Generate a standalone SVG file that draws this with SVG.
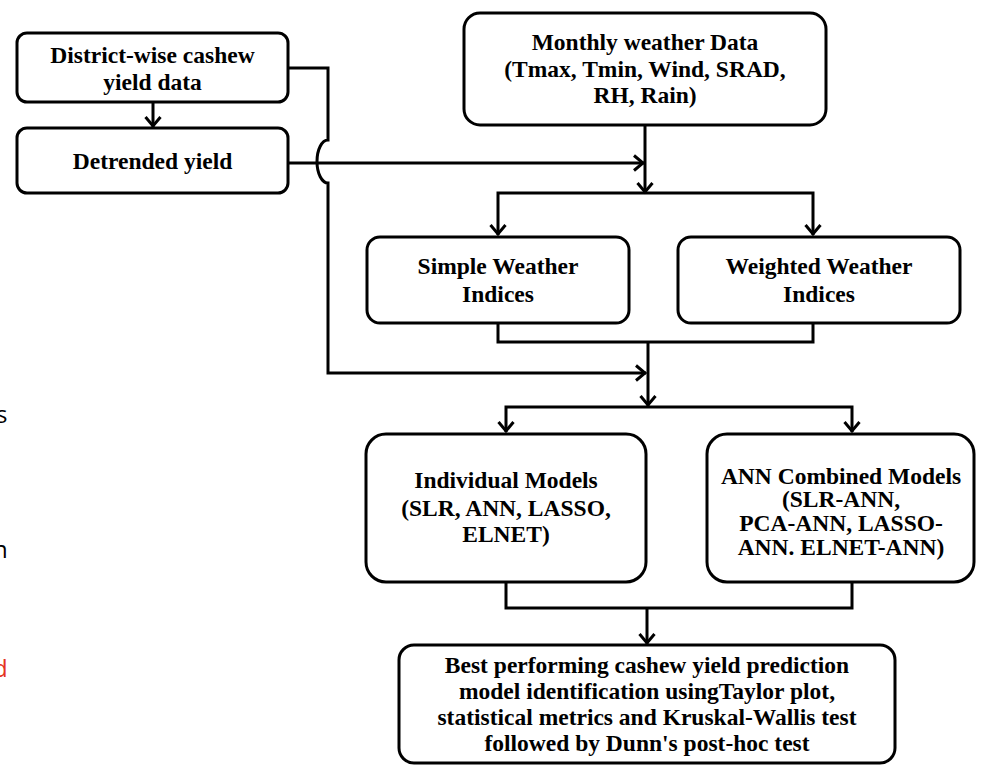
<svg xmlns="http://www.w3.org/2000/svg" width="982" height="766" viewBox="0 0 982 766">
<style>
.box{fill:#fff;stroke:#000;stroke-width:3}
.t{font-family:"Liberation Serif","Times New Roman",serif;font-weight:bold;font-size:23.5px;fill:#000;text-anchor:middle}
.c{fill:none;stroke:#000;stroke-width:3;stroke-linejoin:miter}
.side{font-family:"Open Sans","Noto Sans",sans-serif;font-size:24px}
</style>
<defs>
<marker id="ah" markerUnits="userSpaceOnUse" viewBox="-12 -10 16 20" markerWidth="16" markerHeight="20" refX="1" refY="0" orient="auto">
<path d="M-9,-7.5 L0,0 L-9,7.5" fill="none" stroke="#000" stroke-width="3"/>
</marker>
</defs>
<rect width="982" height="766" fill="#fff"/>
<g id="side-text">
<text class="side" x="-4" y="423" fill="#000">s</text>
<text class="side" x="-7" y="558" fill="#000">n</text>
<text class="side" x="-7" y="677" fill="#e53222">d</text>
</g>
<g id="connectors">
<path class="c" d="M153,102 V127" marker-end="url(#ah)"/>
<path class="c" d="M645,125 V193" marker-end="url(#ah)"/>
<path class="c" d="M288,163 H644" marker-end="url(#ah)"/>
<path class="c" d="M645,193 H498 V235" marker-end="url(#ah)"/>
<path class="c" d="M645,193 H813 V235" marker-end="url(#ah)"/>
<path class="c" d="M498,323 V342 H813 V323"/>
<path class="c" d="M648,342 V406" marker-end="url(#ah)"/>
<path class="c" d="M288,68 H328 V140 A11,21.5 0 0 0 328,183 V373 H646" marker-end="url(#ah)"/>
<path class="c" d="M648,407 H506 V432" marker-end="url(#ah)"/>
<path class="c" d="M648,407 H852 V432" marker-end="url(#ah)"/>
<path class="c" d="M506,582 V608 H852 V582"/>
<path class="c" d="M647,608 V644" marker-end="url(#ah)"/>
</g>
<g id="district">
<rect class="box" x="17" y="33" width="271" height="69" rx="10"/>
<text class="t" x="152.5" y="63">District-wise cashew</text>
<text class="t" x="152.5" y="90">yield data</text>
</g>
<g id="detrended">
<rect class="box" x="17" y="128" width="271" height="65" rx="10"/>
<text class="t" x="152.5" y="169">Detrended yield</text>
</g>
<g id="monthly">
<rect class="box" x="464" y="13" width="362" height="112" rx="16"/>
<text class="t" x="645" y="50">Monthly weather Data</text>
<text class="t" x="645" y="77">(Tmax, Tmin, Wind, SRAD,</text>
<text class="t" x="645" y="103">RH, Rain)</text>
</g>
<g id="simple">
<rect class="box" x="367" y="237" width="262" height="86" rx="13"/>
<text class="t" x="498" y="274">Simple Weather</text>
<text class="t" x="498" y="302">Indices</text>
</g>
<g id="weighted">
<rect class="box" x="678" y="237" width="282" height="86" rx="13"/>
<text class="t" x="819" y="274">Weighted Weather</text>
<text class="t" x="819" y="302">Indices</text>
</g>
<g id="individual">
<rect class="box" x="366" y="434" width="280" height="148" rx="20"/>
<text class="t" x="506" y="488">Individual  Models</text>
<text class="t" x="506" y="516">(SLR, ANN, LASSO,</text>
<text class="t" x="506" y="542">ELNET)</text>
</g>
<g id="ann">
<rect class="box" x="707" y="434" width="267" height="148" rx="20"/>
<text class="t" x="841" y="484">ANN Combined Models</text>
<text class="t" x="841" y="507">(SLR-ANN,</text>
<text class="t" x="841" y="531">PCA-ANN, LASSO-</text>
<text class="t" x="841" y="555">ANN. ELNET-ANN)</text>
</g>
<g id="best">
<rect class="box" x="399" y="645" width="496" height="118" rx="15"/>
<text class="t" x="647" y="673">Best performing cashew yield prediction</text>
<text class="t" x="647" y="699">model identification usingTaylor plot,</text>
<text class="t" x="647" y="725">statistical metrics and Kruskal-Wallis test</text>
<text class="t" x="647" y="751">followed by Dunn's post-hoc test</text>
</g>
</svg>
